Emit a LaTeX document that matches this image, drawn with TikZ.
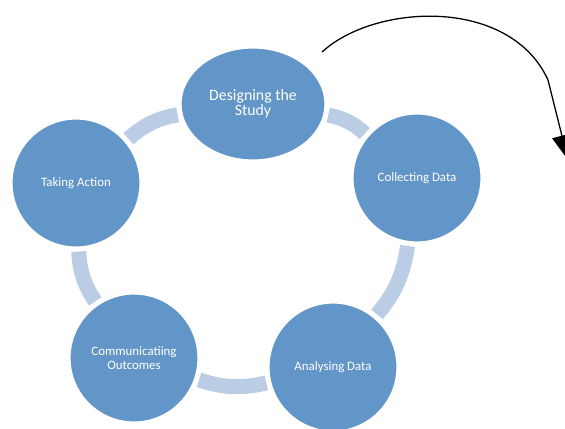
\documentclass[tikz,border=0pt]{standalone}
\usepackage{fontspec}
\setmainfont{Carlito}
\usetikzlibrary{shapes.geometric,arrows.meta}

\definecolor{stepblue}{RGB}{98,149,200}
\definecolor{bandblue}{RGB}{187,205,228}

\tikzset{
    stage/.style={circle, fill=stepblue, draw=white, line width=1pt,
        minimum size=3.84cm, inner sep=0pt, text=white, align=center,
        font=\fontsize{11}{11.5}\selectfont},
    band/.style={draw=bandblue, line width=0.45cm, bend left=16,
        shorten <=0.12cm, shorten >=0.12cm}
}

\begin{document}
\begin{tikzpicture}

    \useasboundingbox (0,0) rectangle (16.95,-12.84);

    %% Stages of the cycle
    \node[stage, ellipse, minimum width=4.32cm, minimum height=3.36cm,
        font=\fontsize{13.5}{13}\selectfont] (design) at (7.59,-3.12) {Designing the\\Study};
    \node[stage] (collect) at (12.51,-5.34) {Collecting Data};
    \node[stage] (analyse) at (9.99,-11.01) {Analysing Data};
    \node[stage] (report) at (4.02,-10.74) {Communicatiing\\Outcomes};
    \node[stage] (act) at (2.28,-5.49) {Taking Action};

    %% Bands between stages
    \draw[band] (design) to (collect);
    \draw[band] (collect) to (analyse);
    \draw[band] (analyse) to (report);
    \draw[band] (report) to (act);
    \draw[band] (act) to (design);

    %% Curved arrow
    \coordinate (from) at (9.66,-1.56);
    \coordinate (to) at (17.04,-4.8);
    \draw[line width=1.1pt, -{Triangle[length=0.75cm, width=0.6cm]}]
        (from) .. controls (11.25,-0.1) and (15.3,0.1) .. (16.44,-2.4) -- (to);

\end{tikzpicture}
\end{document}
